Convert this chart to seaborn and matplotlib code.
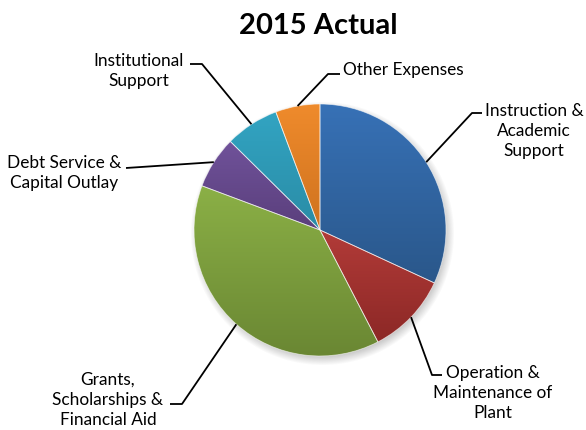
import numpy as np
import matplotlib
matplotlib.use("Agg")
import matplotlib.pyplot as plt
import seaborn as sns
from matplotlib.colors import to_rgb

# Spending categories (clockwise from 12 o'clock) and their shares in percent
categories = [
    "Instruction &\nAcademic\nSupport",
    "Operation &\nMaintenance of\nPlant",
    "Grants,\nScholarships &\nFinancial Aid",
    "Debt Service &\nCapital Outlay",
    "Institutional\nSupport",
    "Other Expenses",
]
shares = [31.9, 10.5, 38.3, 6.7, 6.9, 5.7]

# Per-slice gradient colours (light top -> dark bottom)
top_colors = ["#3771B6", "#B23B38", "#8BB046", "#70529A", "#32A4C2", "#EF8B2C"]
bottom_colors = ["#2A578A", "#8C2826", "#6A8733", "#5A3F7C", "#2A8CA6", "#CF721F"]

sns.set_theme(style="white")
plt.rcParams["font.family"] = ["Lato", "DejaVu Sans"]

W, H = 586, 430
fig = plt.figure(figsize=(W / 100, H / 100), dpi=100)
ax = fig.add_axes([0, 0, 1, 1])

cx, cy, R = 320, 200, 126
mid_colors = [tuple((np.array(to_rgb(a)) + np.array(to_rgb(b))) / 2)
              for a, b in zip(top_colors, bottom_colors)]

wedges, _ = ax.pie(
    shares, startangle=90, counterclock=False, center=(cx, cy), radius=R,
    colors=mid_colors,
    wedgeprops=dict(linewidth=0.6, edgecolor=(1, 1, 1, 0.6)),
)

# soft drop shadow below the pie
yy, xx = np.mgrid[cy - R - 20:cy + R + 20:1.0, cx - R - 20:cx + R + 20:1.0]
d = np.hypot(xx - (cx + 2), yy - (cy - 4))
alpha = 0.4 * np.clip((R + 6 - d) / 12, 0, 1)
shadow = np.zeros(xx.shape + (4,))
shadow[..., :3] = 0.35
shadow[..., 3] = alpha
ax.imshow(shadow, extent=(cx - R - 20, cx + R + 20, cy - R - 20, cy + R + 20),
          origin="lower", zorder=0.5, interpolation="bilinear")

# vertical gradient fill clipped to each wedge
for w, c_top, c_bot in zip(wedges, top_colors, bottom_colors):
    ext = w.get_path().get_extents()
    t = np.linspace(0, 1, 128)[:, None]
    grad = (1 - t) * np.array(to_rgb(c_top)) + t * np.array(to_rgb(c_bot))
    grad = np.repeat(grad[:, None, :], 2, axis=1)
    im = ax.imshow(grad, extent=(ext.x0, ext.x1, ext.y0, ext.y1), origin="upper",
                   aspect="auto", zorder=w.get_zorder() + 0.1, interpolation="bilinear")
    im.set_clip_path(w)
    w.set_zorder(w.get_zorder() + 0.2)
    w.set_facecolor("none")

# label layout: leader elbow/end points and text anchors
elbows = [(472, 317), (432, 55), (182, 26), None, (202, 366), (328, 356)]
ends = [(482, 317), (442, 55), (170, 26), (126, 262), (190, 366), (340, 356)]
text_pos = [(534, 299), (493, 37), (108, 30), (64, 257), (139, 359), (343, 360)]
text_ha = ["center", "center", "center", "center", "center", "left"]

for w, label, elb, end, tp, ha in zip(wedges, categories, elbows, ends, text_pos, text_ha):
    theta = np.deg2rad((w.theta1 + w.theta2) / 2)
    sx, sy = cx + R * np.cos(theta), cy + R * np.sin(theta)
    pts = [(sx, sy)] + ([elb] if elb else []) + [end]
    xs, ys = zip(*pts)
    ax.plot(xs, ys, color="black", lw=1.3, solid_capstyle="butt", zorder=3)
    ax.text(tp[0], tp[1], label, ha=ha, va="center", multialignment="center",
            fontsize=12.4, linespacing=1.33, color="black", zorder=4)

ax.set_xlim(0, W)
ax.set_ylim(0, H)
ax.set_aspect("equal")
ax.axis("off")

fig.text(318 / W, 1 - 26 / H, "2015 Actual", ha="center", va="center",
         fontsize=21, fontweight="bold", color="black")

fig.savefig("out.png", dpi=100, facecolor="white")
